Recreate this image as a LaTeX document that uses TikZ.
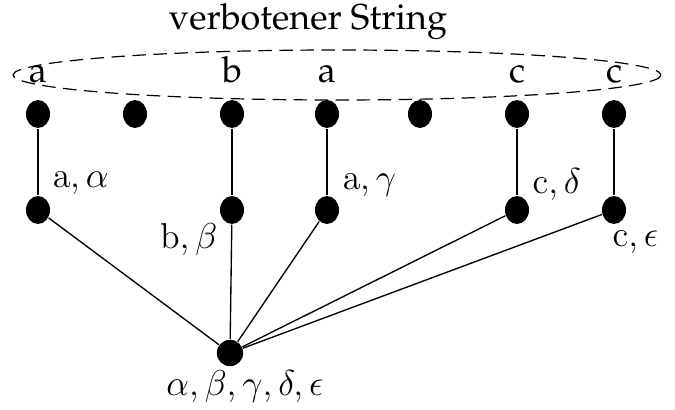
\documentclass[tikz,border=0pt]{standalone}
\usepackage[T1]{fontenc}
\usepackage{palatino}
\usetikzlibrary{shapes.geometric}
\begin{document}
\begin{tikzpicture}[x=0.3333pt,y=-0.3333pt,
  dot/.style={fill=black,ellipse,inner sep=0pt,minimum width=8pt,minimum height=9.3pt},
  bdot/.style={fill=black,circle,inner sep=0pt,minimum size=8.8pt},
  edge/.style={line width=0.45pt},
  lbl/.style={inner sep=0pt,font=\large}]
\useasboundingbox (0,0) rectangle (675,410);
\draw[line width=0.4pt,dash pattern=on 4.5pt off 2.5pt] (337,75) ellipse [x radius=324, y radius=25] ;
\node[lbl] (title) at (308,22) {verbotener String};
\foreach \n/\x/\s in {l1/38/a,l2/232/b,l3/327/a,l4/517/c,l5/614/c}
  \node[lbl,anchor=base] (\n) at (\x,83) {\s};
\foreach \n/\x in {t1/38,t2/135,t3/232,t4/327,t5/420,t6/517,t7/614}
  \node[dot] (\n) at (\x,114) {};
\foreach \n/\x in {m1/38,m2/232,m3/327,m4/517,m5/614}
  \node[dot] (\n) at (\x,210) {};
\node[bdot] (b) at (230,353) {};
\foreach \i in {1,...,5} \draw[edge] (b) -- (m\i);
\draw[edge] (t1) -- (m1);
\draw[edge] (t3) -- (m2);
\draw[edge] (t4) -- (m3);
\draw[edge] (t6) -- (m4);
\draw[edge] (t7) -- (m5);
\node[lbl,anchor=west] (x1) at (52,183) {$\mathrm{a},\alpha$};
\node[lbl,anchor=east] (x2) at (218,240) {$\mathrm{b},\beta$};
\node[lbl,anchor=west] (x3) at (342,185) {$\mathrm{a},\gamma$};
\node[lbl,anchor=west] (x4) at (532,185) {$\mathrm{c},\delta$};
\node[lbl,anchor=west] (x5) at (612,242) {$\mathrm{c},\epsilon$};
\node[lbl] (x6) at (245,387) {$\alpha,\beta,\gamma,\delta,\epsilon$};
\end{tikzpicture}
\end{document}
